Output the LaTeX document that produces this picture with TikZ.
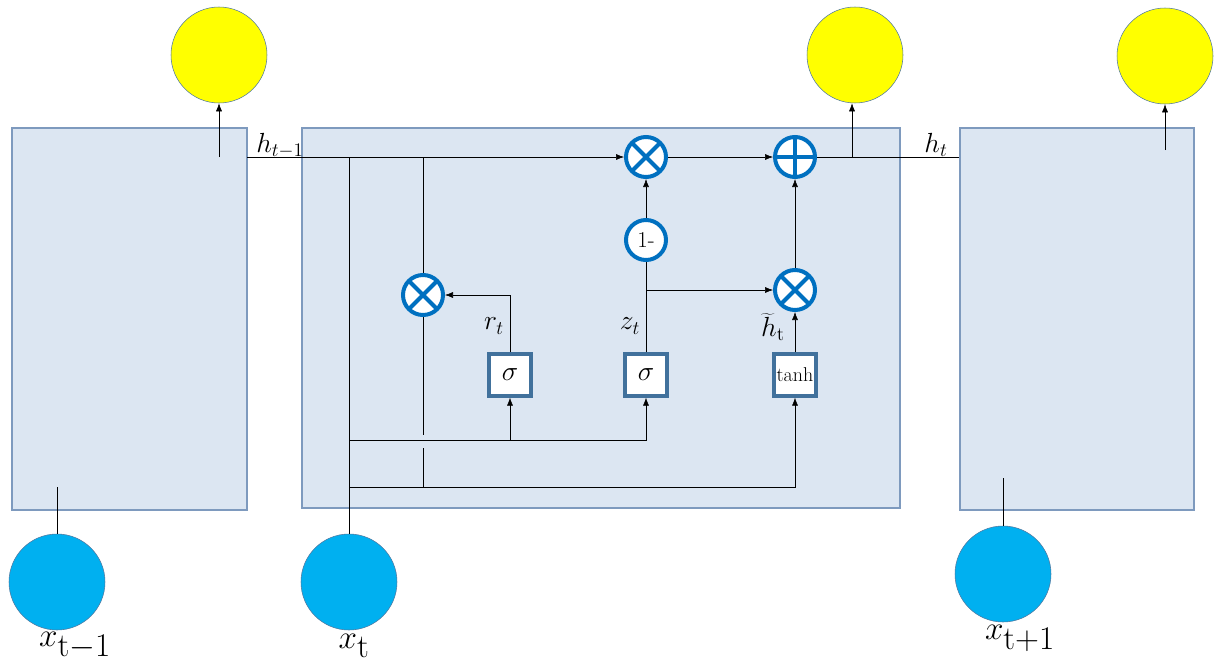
\documentclass[tikz,border=0pt]{standalone}
\usetikzlibrary{calc,arrows.meta}
\definecolor{cellfill}{RGB}{220,230,242}
\definecolor{celledge}{RGB}{126,154,190}
\definecolor{opblue}{RGB}{0,112,192}
\definecolor{gateedge}{RGB}{65,113,156}
\definecolor{inblue}{RGB}{0,176,240}
\definecolor{ringedge}{RGB}{80,120,160}
\definecolor{outyellow}{RGB}{255,255,0}
\begin{document}
\begin{tikzpicture}[x=0.75pt,y=-0.75pt,>={Latex[length=6pt,width=4.5pt]},
	cell/.style={draw=celledge,fill=cellfill,line width=1pt,inner sep=0pt},
	outnode/.style={circle,draw=ringedge,fill=outyellow,minimum size=72pt,inner sep=0pt},
	innode/.style={circle,draw=ringedge,fill=inblue,minimum size=72pt,inner sep=0pt},
	gate/.style={draw=gateedge,fill=white,line width=3pt,minimum size=31pt,inner sep=0pt,font=\fontsize{21}{22}\selectfont},
	opnode/.style={circle,draw=opblue,fill=white,line width=3pt,minimum size=30pt,inner sep=0pt},
	mult/.style={opnode,path picture={
		\draw[opblue,line width=3pt] (path picture bounding box.north east) -- (path picture bounding box.south west);
		\draw[opblue,line width=3pt] (path picture bounding box.north west) -- (path picture bounding box.south east);}},
	addop/.style={opnode,path picture={
		\draw[opblue,line width=3pt] (path picture bounding box.north) -- (path picture bounding box.south);
		\draw[opblue,line width=3pt] (path picture bounding box.west) -- (path picture bounding box.east);}},
	lbl/.style={font=\fontsize{22}{24}\selectfont},
	xlbl/.style={font=\fontsize{38}{40}\selectfont}]
\useasboundingbox (0,0) rectangle (1214,668);
% cells
\node[cell,minimum width=176.25pt,minimum height=286.5pt] (cellL) at (129.5,319) {};
\node[cell,minimum width=448.5pt,minimum height=285pt] (cellM) at (601,318) {};
\node[cell,minimum width=175.5pt,minimum height=286.5pt] (cellR) at (1077,319) {};
% outputs and inputs
\node[outnode] (yL) at (219,55) {};
\node[outnode] (yM) at (855,55) {};
\node[outnode] (yR) at (1165,56) {};
\node[innode] (xL) at (57,582) {};
\node[innode] (xM) at (349,582) {};
\node[innode] (xR) at (1003,574) {};
\node[xlbl] (lxL) at (75,646) {$x_{\mathrm{t}-1}$};
\node[xlbl] (lxM) at (354,646) {$x_{\mathrm{t}}$};
\node[xlbl] (lxR) at (1020,638) {$x_{\mathrm{t}+1}$};
% gates and operators
\node[mult] (mz) at (646,157) {};
\node[addop] (add) at (795,157) {};
\node[opnode,font=\fontsize{17}{18}\selectfont] (om) at (646,240) {1-};
\node[mult] (mr) at (423,295) {};
\node[mult] (mh) at (795,290) {};
\node[gate] (sr) at (510,375) {$\sigma$};
\node[gate] (sz) at (646,375) {$\sigma$};
\node[gate,font=\fontsize{15}{16}\selectfont] (th) at (795,375) {tanh};
% labels
\node[lbl] (lh1) at (280,146) {$h_{t-1}$};
\node[lbl] (lh2) at (936,145) {$h_t$};
\node[lbl] (lr) at (494,326) {$r_t$};
\node[lbl] (lz) at (630,326) {$z_t$};
\node[lbl,inner sep=1pt] (lht) at (773,327) {$\widetilde{h}_{\mathrm{t}}$};
% junctions
\coordinate (hin) at (247,157);
\coordinate (jtop) at (349,157);
\coordinate (rtop) at (423,157);
\coordinate (rgap1) at (423,435);
\coordinate (rgap2) at (423,448);
\coordinate (rbot) at (423,487);
\coordinate (zb) at (646,290);
\coordinate (b1) at (349,440);
\coordinate (b2) at (349,487);
\coordinate (oL) at (219,157);
\coordinate (oM) at (852,157);
\coordinate (oR) at (1165,150);
\coordinate (iL) at (57,487);
\coordinate (iR) at (1003,478);
% hidden state path
\draw[->] (hin) -- (mz);
\draw[->] (mz) -- (add);
\draw (add) -- (cellR.west |- add);
\draw[->] (om) -- (mz);
\draw[->] (mh) -- (add);
% outputs and inputs
\draw[->] (oL) -- (yL);
\draw[->] (oM) -- (oM |- yM.south);
\draw[->] (oR) -- (yR);
\draw (xL) -- (iL);
\draw (xR) -- (iR);
\draw (xM) -- (jtop);
% reset branch
\draw (rtop) -- (mr);
\draw (mr) -- (rgap1);
\draw (rgap2) -- (rbot);
\draw[->] (sr) |- (mr);
% update branch
\draw (sz) -- (om);
\draw[->] (zb) -- (mh);
\draw[->] (th) -- (mh);
% inputs to gates
\draw[->] (b1) -| (sz);
\draw[->] (sr |- b1) -- (sr);
\draw[->] (b2) -| (th);
\end{tikzpicture}
\end{document}
